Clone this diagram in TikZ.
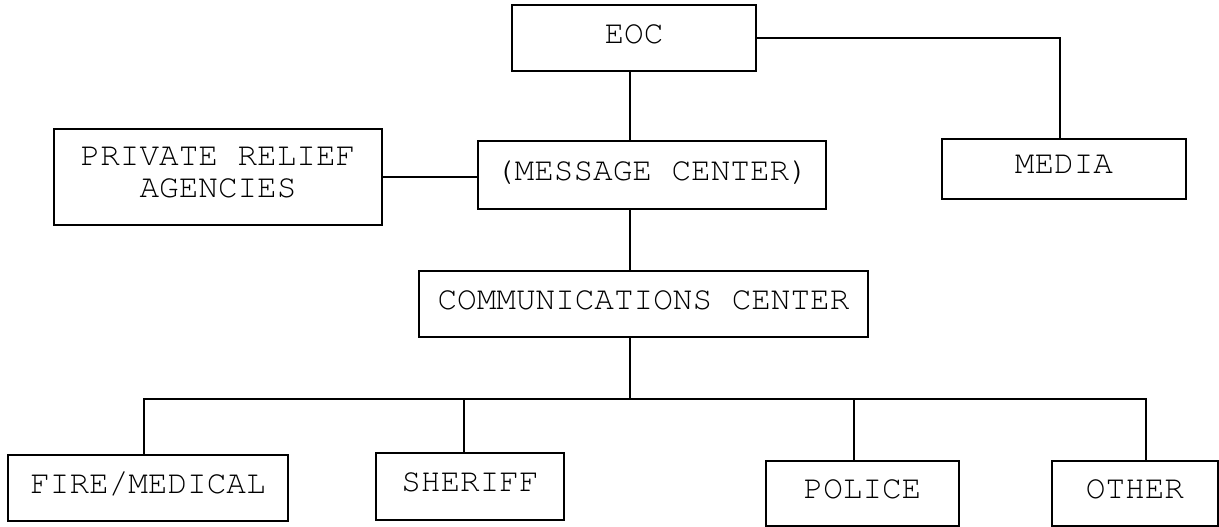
\documentclass[tikz,border=0pt]{standalone}
\usepackage[T1]{fontenc}
\usepackage{courier}

\begin{document}
\begin{tikzpicture}[
            line width=1.1pt,
            unitbox/.style={
                rectangle,
                draw,
                inner sep=0pt,
                align=center,
                text depth=0.18cm,
                font=\ttfamily\fontsize{18.6}{18}\selectfont
            }
        ]

            \useasboundingbox (0, 0) rectangle (24.38, -10.54);

            \node[unitbox, minimum width=4.88cm, minimum height=1.32cm] (eoc) at (12.68, -0.76) {EOC};
            \node[unitbox, minimum width=6.96cm, minimum height=1.36cm] (msg) at (13.04, -3.50) {(MESSAGE CENTER)};
            \node[unitbox, minimum width=6.56cm, minimum height=1.92cm] (priv) at (4.36, -3.54) {PRIVATE RELIEF\\AGENCIES};
            \node[unitbox, minimum width=4.88cm, minimum height=1.20cm] (media) at (21.28, -3.38) {MEDIA};
            \node[unitbox, minimum width=8.98cm, minimum height=1.32cm] (comm) at (12.87, -6.08) {COMMUNICATIONS CENTER};


            \node[unitbox, minimum width=5.60cm, minimum height=1.32cm] (fire) at (2.96, -9.76) {FIRE/MEDICAL};
            \node[unitbox, minimum width=3.76cm, minimum height=1.34cm] (sheriff) at (9.40, -9.73) {SHERIFF};
            \node[unitbox, minimum width=3.86cm, minimum height=1.30cm] (police) at (17.25, -9.87) {POLICE};
            \node[unitbox, minimum width=3.32cm, minimum height=1.30cm] (other) at (22.70, -9.87) {OTHER};

            \coordinate (bus) at (12.60, -7.98);

            \draw (eoc.south -| bus) -- (msg.north -| bus);
            \draw (eoc.east) -| ([xshift=-0.08cm]media.north);
            \draw (priv.east) -- (priv.east -| msg.west);
            \draw (msg.south -| bus) -- (comm.north -| bus);
            \draw (comm.south -| bus) -- (bus);

            \draw ([xshift=-0.08cm]fire.north) |- (bus)
                -| ([xshift=0.22cm]other.north);
            \draw ([xshift=-0.12cm]sheriff.north) -- ([xshift=-0.12cm]sheriff.north |- bus);
            \draw ([xshift=-0.17cm]police.north) -- ([xshift=-0.17cm]police.north |- bus);

        \end{tikzpicture}
\end{document}
